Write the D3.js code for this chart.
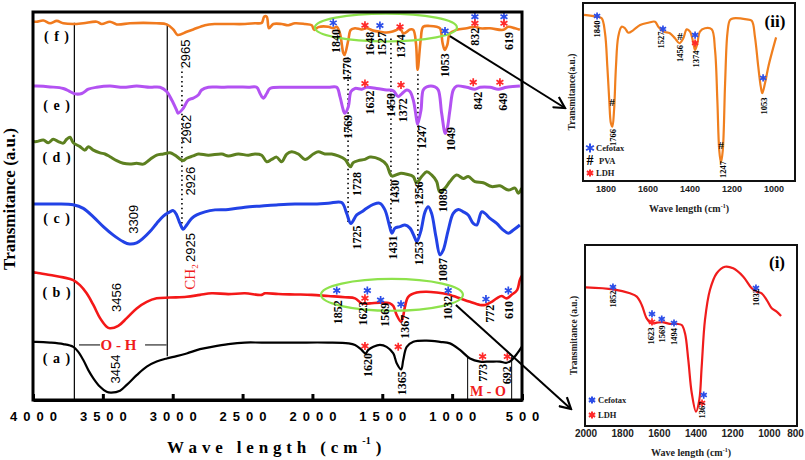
<!DOCTYPE html>
<html><head><meta charset="utf-8">
<script src="https://cdn.jsdelivr.net/npm/d3@7"></script>
<style>body{margin:0;background:#fff}svg{display:block}</style>
</head><body><svg id="c" width="805" height="460"></svg>
<script>
// ---------- DATA (wavenumber cm-1, transmittance a.u.) ----------
const xTicks = [4000,3500,3000,2500,2000,1500,1000,500];
const spectrumF = [[3995,97.5],[3974,97.5],[3926,97.8],[3878,97.1],[3830,97.7],[3783,97.1],[3712,96.9],[3640,97.1],[3544,97.5],[3508,96.9],[3449,97.5],[3401,96.8],[3306,97.1],[3211,97.2],[3115,97.1],[3043,96.8],[2996,95.5],[2965,94.1],[2900,94.9],[2853,95.5],[2769,96.6],[2697,96.9],[2602,96.9],[2483,96.9],[2411,97.1],[2363,97.2],[2345,98.8],[2327,98.8],[2311,95.8],[2280,96.9],[2220,96.9],[2173,96.6],[2125,97.1],[2053,96.9],[2005,96.6],[1987,95.4],[1958,96.1],[1887,96.2],[1851,95.8],[1826,96.2],[1803,94.5],[1779,89.4],[1770,88.9],[1743,92.8],[1726,95.4],[1695,95.8],[1647,95.5],[1612,95.8],[1564,95.2],[1517,94.9],[1469,94.7],[1433,94.9],[1397,95.4],[1373,95.8],[1350,94.5],[1325,94.9],[1302,95.5],[1278,95.4],[1259,91.9],[1247,85.1],[1225,92.8],[1207,96.2],[1159,96.4],[1111,96.2],[1087,95.8],[1068,91.9],[1053,90.2],[1035,91.5],[1016,94.5],[968,95.4],[896,95.8],[837,96.2],[801,95.8],[729,95.8],[634,95.4],[598,96.2],[550,95.8],[515,95.4]];
const spectrumE = [[3995,80.9],[3974,80.9],[3878,80.7],[3783,80.3],[3735,79.5],[3699,78.9],[3651,79.0],[3604,80.1],[3544,80.6],[3449,80.9],[3354,80.6],[3258,80.9],[3163,80.6],[3091,80.6],[3043,79.5],[3007,77.3],[2972,74.7],[2962,73.9],[2924,75.2],[2889,77.3],[2853,77.8],[2817,78.6],[2793,79.9],[2745,80.6],[2649,80.6],[2554,80.7],[2459,80.6],[2399,80.6],[2375,79.0],[2352,77.8],[2327,79.0],[2304,80.3],[2173,80.6],[2030,80.6],[1887,80.6],[1826,80.6],[1803,78.2],[1779,74.7],[1769,73.9],[1743,75.6],[1724,79.5],[1695,80.3],[1647,80.1],[1612,80.6],[1540,80.3],[1469,79.9],[1421,79.7],[1386,78.2],[1361,78.9],[1325,79.9],[1302,79.5],[1278,77.3],[1254,72.2],[1247,71.1],[1223,74.7],[1207,79.9],[1182,80.7],[1123,80.7],[1099,79.9],[1075,73.9],[1049,68.7],[1035,70.0],[1016,74.7],[992,79.9],[968,80.9],[896,80.6],[837,80.1],[801,80.6],[729,80.6],[670,80.1],[610,80.6],[515,80.9]];
const spectrumD = [[3995,66.6],[3974,66.6],[3926,67.0],[3890,66.3],[3855,67.2],[3819,66.6],[3783,66.2],[3759,67.2],[3735,67.7],[3712,66.3],[3664,65.3],[3628,64.4],[3604,65.3],[3568,64.4],[3520,63.7],[3485,63.4],[3449,62.7],[3401,61.7],[3354,61.0],[3306,60.8],[3258,61.0],[3211,60.8],[3163,62.0],[3115,63.1],[3067,63.4],[3020,63.7],[2984,63.1],[2926,61.7],[2900,62.3],[2853,62.9],[2817,63.4],[2745,63.1],[2649,63.4],[2602,62.9],[2531,63.4],[2459,63.1],[2411,63.4],[2363,63.1],[2327,61.4],[2292,62.0],[2256,62.6],[2220,61.4],[2184,63.4],[2148,64.0],[2101,63.4],[2053,62.0],[1994,63.4],[1958,64.0],[1910,63.4],[1862,63.4],[1815,62.9],[1767,62.0],[1728,60.1],[1708,61.2],[1672,61.7],[1624,62.0],[1588,62.6],[1517,62.0],[1469,60.6],[1445,58.4],[1430,57.7],[1373,58.4],[1325,58.2],[1278,57.6],[1256,56.0],[1218,57.6],[1182,58.8],[1147,58.0],[1111,56.3],[1089,53.7],[1051,54.6],[1016,56.3],[968,58.0],[920,57.1],[885,57.6],[837,56.3],[777,56.0],[717,55.0],[658,55.2],[598,54.1],[550,54.6],[526,53.3],[502,54.6]];
const spectrumC = [[3995,50.5],[3974,50.5],[3830,50.5],[3712,50.3],[3640,49.4],[3568,47.2],[3497,44.7],[3425,42.5],[3354,40.8],[3309,40.2],[3258,40.5],[3211,41.7],[3163,43.4],[3115,45.5],[3067,47.4],[3020,48.5],[2996,48.8],[2972,47.7],[2948,45.5],[2925,44.0],[2900,45.1],[2864,46.8],[2828,47.7],[2769,48.5],[2697,49.0],[2602,49.1],[2483,49.7],[2363,50.0],[2244,50.3],[2125,50.5],[2005,50.5],[1887,50.7],[1791,50.9],[1755,48.1],[1725,45.5],[1683,47.7],[1647,48.5],[1612,49.4],[1564,50.4],[1517,50.7],[1481,49.0],[1450,45.1],[1431,43.0],[1409,44.3],[1373,44.7],[1338,45.1],[1302,44.3],[1266,41.7],[1253,40.8],[1225,43.4],[1194,48.5],[1171,49.8],[1147,48.1],[1116,42.1],[1087,37.4],[1063,38.7],[1028,43.8],[992,48.1],[956,49.1],[920,48.5],[885,47.7],[849,45.5],[824,45.1],[789,48.5],[765,48.1],[729,46.8],[681,45.5],[634,43.8],[598,43.0],[562,43.8],[515,45.1]];
const spectrumB = [[3995,32.9],[3974,32.8],[3878,32.2],[3783,31.6],[3712,30.9],[3664,29.6],[3616,27.5],[3568,24.5],[3520,21.1],[3473,18.9],[3450,18.5],[3390,19.1],[3329,21.1],[3258,23.6],[3186,25.3],[3115,26.2],[3020,26.4],[2900,26.6],[2805,27.1],[2721,27.5],[2602,27.3],[2483,27.5],[2363,27.1],[2340,27.5],[2244,27.3],[2125,27.2],[2005,27.1],[1887,26.8],[1767,26.5],[1695,26.2],[1647,24.9],[1588,24.9],[1517,25.1],[1445,24.9],[1421,24.2],[1397,21.9],[1367,20.2],[1354,21.1],[1338,24.0],[1314,26.6],[1254,27.7],[1182,27.9],[1111,27.7],[1039,27.3],[992,26.8],[944,26.2],[872,25.3],[801,24.5],[765,24.5],[717,25.3],[681,26.2],[646,26.8],[610,26.2],[574,27.1],[534,28.4],[516,30.9],[502,32.0]];
const spectrumA = [[3995,15.0],[3974,15.0],[3878,14.8],[3783,14.4],[3712,13.7],[3676,12.4],[3640,10.3],[3604,7.7],[3568,5.6],[3520,3.4],[3473,2.1],[3440,1.9],[3377,2.4],[3329,3.9],[3258,6.4],[3186,8.6],[3115,9.9],[3043,10.7],[2972,11.3],[2900,12.0],[2805,13.1],[2721,13.7],[2602,14.4],[2483,14.8],[2363,14.8],[2125,14.8],[1887,14.8],[1743,14.6],[1695,14.2],[1650,13.0],[1620,12.0],[1600,12.9],[1564,13.7],[1517,14.2],[1469,13.7],[1421,12.0],[1397,9.5],[1365,7.9],[1350,10.3],[1325,13.7],[1278,15.0],[1182,15.3],[1087,15.0],[1016,14.6],[944,12.9],[872,10.7],[801,9.9],[729,9.9],[658,9.9],[610,9.6],[574,10.3],[534,12.0],[502,13.7]];
const curveNames = [["( f )",3828,93.8],["( e )",3828,76.0],["( d )",3828,62.4],["( c )",3828,46.9],["( b )",3828,27.6],["( a )",3828,10.8]];
const peakLabels = [["2965",2912,89.2],["1840",1831,92.5],["1770",1753,85.3],["1648",1588,91.8],["1527",1502,91.8],["1374",1363,91.2],["1053",1051,86.3],["832",837,93.6],["619",590,92.5],
 ["2962",2900,69.8],["1769",1746,70.4],["1632",1585,76.7],["1450",1438,76.0],["1372",1352,74.7],["1247",1216,67.8],["1049",1008,67.3],["842",815,77.1],["649",636,76.9],
 ["2926",2876,56.4],["1728",1681,55.7],["1430",1409,53.7],["1256",1234,53.2],["1089",1066,51.5],
 ["3309",3284,46.6],["2925",2876,39.3],["1725",1681,41.9],["1431",1423,39.3],["1253",1237,37.8],["1087",1069,33.5],
 ["3456",3402,26.4],["1852",1817,22.6],["1623",1635,22.3],["1569",1481,22.0],["1367",1338,18.9],["1032",1030,23.8],["772",729,22.2],["610",590,23.2],
 ["3454",3413,8.0],["1620",1602,9.0],["1365",1359,4.3],["773",779,7.0],["692",608,6.4]];
const peakStars = [[1851,97.2,"cef"],[1624,96.6,"ldh"],[1517,96.5,"cef"],[1373,96.2,"ldh"],[1051,95.1,"cef"],[837,98.8,"cef"],[837,97.1,"ldh"],[629,98.8,"cef"],[629,97.1,"ldh"],
 [1624,81.6,"ldh"],[1366,81.2,"ldh"],[849,81.9,"ldh"],[658,81.9,"ldh"],
 [1826,28.2,"cef"],[1624,26.2,"ldh"],[1607,28.2,"cef"],[1512,25.8,"cef"],[1366,24.7,"cef"],[1028,28.2,"cef"],[758,26.0,"cef"],[598,28.2,"cef"],
 [1624,13.9,"ldh"],[1386,13.7,"ldh"],[782,11.2,"ldh"],[605,11.2,"ldh"]];
const solidGuides = [[3704,0,97.2],[3039,11.3,96.9]];
const dottedGuides = [[2934,44.3,85.6],[1745,45.9,88.4],[1438,44.3,93.3],[1245,41.2,84.5]];
const ohSegments = [[3671,3520],[3198,3043]];
const ohLevel = 14.2;
const moBounds = [889,574];
const zoomEllipses = [[1474,96.0,3.6],[1431,27.1,4.1]]; // centre w, centre v, half height (a.u.)

const insetIITicks = [1800,1600,1400,1200,1000];
const insetIIData = [[1905,93.3],[1845,92.3],[1821,91.4],[1805,83],[1794,64.2],[1785,45.5],[1777,32.4],[1770,30.5],[1762,39.9],[1753,64.2],[1742,81.1],[1726,86.7],[1710,85.8],[1694,83.3],[1670,84.8],[1638,87.6],[1599,88.9],[1567,89.5],[1551,86.7],[1527,83.9],[1496,83.0],[1472,80.2],[1451,77.4],[1432,80.2],[1416,85.2],[1400,83.9],[1384,77.4],[1376,73.6],[1365,77.4],[1353,83.9],[1329,85.8],[1297,85.2],[1281,73.6],[1270,45.5],[1261,17.4],[1253,10.3],[1244,17.4],[1233,54.9],[1222,83.0],[1210,90.4],[1194,91.4],[1130,90.8],[1106,90.0],[1091,81.1],[1075,64.2],[1063,53.0],[1056,49.3],[1043,54.9],[1027,64.2],[1011,71.7],[990,80.7]];
const insetIILabels = [["1840",1843,85.4],["1766",1769,24.4],["1527",1538,79.2],["1456",1450,71.6],["1374",1374,68.5],["1247",1245,6.5],["1053",1050,42.1]];
const insetIIMarks = [[1843,92.7,"cef"],[1529,85.4,"cef"],[1448,81.5,"pva"],[1376,82.0,"cef"],[1376,77.5,"ldh"],[1772,44.4,"pva"],[1253,20.2,"pva"],[1052,57.9,"cef"]];

const insetITicks = [2000,1800,1600,1400,1200,1000,800];
const insetIData = [[2000,76.6],[1851,75.5],[1760,73.3],[1723,71.5],[1696,66.9],[1669,59.5],[1642,56.7],[1614,57.1],[1578,57.3],[1542,56.4],[1505,56.4],[1478,55.8],[1460,51.2],[1442,36.5],[1423,18.1],[1400,7.9],[1382,14.4],[1369,32.8],[1351,58.6],[1324,75.1],[1287,84.4],[1242,88.0],[1197,87.1],[1142,82.5],[1096,76.1],[1069,74.2],[1042,73.3],[1014,69.6],[987,65.0],[960,63.2],[936,60.8]];
const insetILabels = [["1852",1855,70.2],["1623",1643,49.7],["1569",1588,50.8],["1494",1520,49.4],["1367",1365,8.8],["1032",1075,71.0]];
const insetIMarks = [[1853,76.8,"cef"],[1640,61.9,"cef"],[1640,57.5,"ldh"],[1587,59.1,"cef"],[1520,56.9,"cef"],[1358,17.1,"cef"],[1367,12.7,"ldh"],[1073,76.2,"cef"]];

// ---------- STYLE ----------
const markColor = {cef:"#2b4de8", ldh:"#ff2a2a", pva:"#111"};
const SERIF = "'Liberation Serif','Times New Roman',serif";
const SANS = "'Liberation Sans',Arial,sans-serif";
const W = 805;

const svg = d3.select("#c");
svg.append("defs").append("marker").attr("id","arr").attr("viewBox","0 0 14 14")
  .attr("refX",12).attr("refY",7).attr("markerWidth",14).attr("markerHeight",14)
  .attr("markerUnits","userSpaceOnUse").attr("orient","auto")
  .append("path").attr("d","M1,1 L12,7 L1,13").attr("fill","none").attr("stroke","#000").attr("stroke-width",2.2);

function star(g, cx, cy, r, color, sw){
  const p = d3.path();
  for (let k=0;k<3;k++){ const a=Math.PI/2+k*Math.PI/3;
    p.moveTo(cx+r*Math.cos(a), cy+r*Math.sin(a)); p.lineTo(cx-r*Math.cos(a), cy-r*Math.sin(a)); }
  g.append("path").attr("d",p.toString()).attr("stroke",color).attr("stroke-width",sw||1.7).attr("fill","none");
}
function mark(g, cx, cy, kind, r, fs){
  if (kind==="pva") g.append("text").attr("x",cx).attr("y",cy).attr("text-anchor","middle").attr("dominant-baseline","central")
     .attr("font-family",SERIF).attr("font-weight","bold").attr("font-size",fs).attr("fill","#111").text("#");
  else star(g,cx,cy,r,markColor[kind]);
}
function vlabel(g, x, y, txt, fs, fam, weight, color){
  return g.append("text").attr("transform",`translate(${x},${y}) rotate(-90)`).attr("text-anchor","middle")
   .attr("dominant-baseline","central").attr("font-family",fam).attr("font-weight",weight).attr("font-size",fs)
   .attr("fill",color||"#000").text(txt);
}

// ---------- MAIN CHART ----------
const x = d3.scaleLinear().domain([4000,500]).range([33,522]);
const y = d3.scaleLinear().domain([0,100]).range([400,12]);
const main = svg.append("g");
const line = d3.line().x(d=>x(d[0])).y(d=>y(d[1])).curve(d3.curveCatmullRom.alpha(0.5));

solidGuides.forEach(([w,v0,v1])=> main.append("line").attr("x1",x(w)).attr("x2",x(w)).attr("y1",y(v0)).attr("y2",y(v1)).attr("stroke","#000").attr("stroke-width",1.2));
dottedGuides.forEach(([w,v0,v1])=> main.append("line").attr("x1",x(w)).attr("x2",x(w)).attr("y1",y(v0)).attr("y2",y(v1)).attr("stroke","#000").attr("stroke-width",1.6).attr("stroke-dasharray","1.5,3.2"));
ohSegments.forEach(([a,b])=> main.append("line").attr("x1",x(a)).attr("x2",x(b)).attr("y1",y(ohLevel)).attr("y2",y(ohLevel)).attr("stroke","#555").attr("stroke-width",1.5));
moBounds.forEach(w=> main.append("line").attr("x1",x(w)).attr("x2",x(w)).attr("y1",y(0)).attr("y2",y(11.2)).attr("stroke","#000").attr("stroke-width",1));

const series = [
  {d:spectrumA, c:"#000000", w:2.2},
  {d:spectrumB, c:"#f41818", w:2.6},
  {d:spectrumC, c:"#2242e6", w:3},
  {d:spectrumD, c:"#5d8020", w:3},
  {d:spectrumE, c:"#b352f2", w:3},
  {d:spectrumF, c:"#f07a1e", w:2.6}
];
series.forEach(s=> main.append("path").datum(s.d).attr("d",line).attr("fill","none").attr("stroke",s.c).attr("stroke-width",s.w).attr("stroke-linejoin","round"));

zoomEllipses.forEach(([w,v,h])=> main.append("ellipse").attr("cx",x(w)).attr("cy",y(v)).attr("rx",71).attr("ry",y(0)-y(h))
  .attr("fill","none").attr("stroke","#8ee24c").attr("stroke-width",2.2));

peakStars.forEach(([w,v,k])=> mark(main, x(w), y(v), k, 4));
peakLabels.forEach(([t,w,v])=>{
  if (w>2800) vlabel(main, x(w), y(v), t, 13, SANS, "normal");
  else vlabel(main, x(w), y(v), t, 12, SERIF, "bold");
});
curveNames.forEach(([t,w,v])=> main.append("text").attr("x",x(w)).attr("y",y(v)).attr("text-anchor","middle").attr("dominant-baseline","central")
  .attr("font-family",SERIF).attr("font-weight","bold").attr("font-size",14).attr("letter-spacing","1px").text(t));

main.append("text").attr("x",x(3388)).attr("y",y(ohLevel)).attr("text-anchor","middle").attr("dominant-baseline","central")
  .attr("font-family",SERIF).attr("font-weight","bold").attr("font-size",15).attr("fill","#f01c1c").text("O - H");
main.append("text").attr("x",x(744)).attr("y",y(2.1)).attr("text-anchor","middle").attr("dominant-baseline","central")
  .attr("font-family",SERIF).attr("font-weight","bold").attr("font-size",14).attr("fill","#f01c1c").text("M - O");
const ch = main.append("text").attr("transform",`translate(${x(2876)},${y(31.7)}) rotate(-90)`).attr("text-anchor","middle")
  .attr("dominant-baseline","central").attr("font-family",SERIF).attr("font-size",15).attr("fill","#f01c1c");
ch.append("tspan").text("CH");
ch.append("tspan").attr("font-size",9).attr("dy",5).text("2");

// frame + axis
main.append("rect").attr("x",33).attr("y",12).attr("width",489).attr("height",388).attr("fill","none").attr("stroke","#000").attr("stroke-width",3);
const ax = main.append("g").attr("transform","translate(0,400)")
  .call(d3.axisBottom(x).tickValues(xTicks).tickSizeInner(-6).tickSizeOuter(0).tickPadding(12).tickFormat(d3.format("d")));
ax.select(".domain").attr("stroke-width",3);
ax.selectAll(".tick line").attr("stroke-width",3);
ax.selectAll(".tick text").attr("font-family",SANS).attr("font-weight","bold").attr("font-size",13)
  .attr("letter-spacing","6px").attr("dx","3px").attr("fill","#000");

svg.append("text").attr("transform","translate(15,199) rotate(-90)").attr("text-anchor","middle")
  .attr("font-family",SERIF).attr("font-weight","bold").attr("font-size",17).text("Transmitance (a.u.)");
const xt = svg.append("text").attr("x",167).attr("y",453).attr("font-family",SERIF).attr("font-weight","bold")
  .attr("font-size",17).attr("letter-spacing","0.3px").attr("xml:space","preserve");
xt.append("tspan").text("W a v e   l e n g t h   ( c m ");
xt.append("tspan").attr("font-size",10).attr("dy",-9).text("-1");
xt.append("tspan").attr("dy",9).text(" )");

// ---------- INSETS ----------
function drawInset(cfg){
  const g = svg.append("g");
  const ix = d3.scaleLinear().domain(cfg.xd).range(cfg.xr);
  const iy = d3.scaleLinear().domain([0,100]).range([cfg.y1,cfg.y0]);
  const il = d3.line().x(d=>ix(d[0])).y(d=>iy(d[1])).curve(d3.curveCatmullRom.alpha(0.5));
  g.append("path").datum(cfg.data).attr("d",il).attr("fill","none").attr("stroke",cfg.color).attr("stroke-width",2.2);
  cfg.marks.forEach(([w,v,k])=> mark(g, ix(w), iy(v), k, 3.6, 11));
  cfg.labels.forEach(([t,w,v])=> vlabel(g, ix(w), iy(v), t, 8.5, SERIF, "bold"));
  g.append("rect").attr("x",cfg.x0).attr("y",cfg.y0).attr("width",cfg.x1-cfg.x0).attr("height",cfg.y1-cfg.y0)
    .attr("fill","none").attr("stroke","#111").attr("stroke-width",2);
  cfg.ticks.forEach(t=>{
    const half = String(t).length*cfg.tickFs*0.28;
    g.append("text").attr("x",Math.min(ix(t), W-1-half)).attr("y",cfg.y1+cfg.tickDy).attr("text-anchor","middle")
      .attr("font-family",SANS).attr("font-weight","bold").attr("font-size",cfg.tickFs).attr("fill","#222").text(t);
  });
  const tt = g.append("text").attr("x",(cfg.x0+cfg.x1)/2).attr("y",cfg.y1+cfg.titleDy).attr("text-anchor","middle")
    .attr("font-family",SERIF).attr("font-weight","bold").attr("font-size",10).attr("fill","#222");
  tt.append("tspan").text("Wave length (cm");
  tt.append("tspan").attr("font-size",6).attr("dy",-4).text("-1");
  tt.append("tspan").attr("dy",4).text(")");
  g.append("text").attr("transform",`translate(${cfg.x0-8},${(cfg.y0+cfg.y1)/2}) rotate(-90)`).attr("text-anchor","middle")
    .attr("font-family",SERIF).attr("font-weight","bold").attr("font-size",9.5).attr("fill","#222").text(cfg.ytitle);
  g.append("text").attr("x",cfg.x1-20).attr("y",cfg.y0+cfg.tagDy).attr("text-anchor","middle")
    .attr("font-family",SERIF).attr("font-weight","bold").attr("font-size",17).text(cfg.tag);
  cfg.legend.forEach(([k,txt],i)=>{
    const ly = cfg.legY + i*cfg.legStep;
    if (k==="pva") g.append("text").attr("x",cfg.x0+7).attr("y",ly).attr("text-anchor","middle").attr("dominant-baseline","central")
      .attr("font-family",SERIF).attr("font-weight","bold").attr("font-size",14).text("#");
    else star(g, cfg.x0+7, ly, k==="cef"&&cfg.bigStar?4.5:3.6, markColor[k], 2);
    g.append("text").attr("x",cfg.x0+13+(k==="pva"?3:0)).attr("y",ly).attr("dominant-baseline","central")
      .attr("font-family",SERIF).attr("font-weight","bold").attr("font-size",8.5).attr("fill","#222").text(txt);
  });
}
drawInset({xd:[1910,900], xr:[583,795], x0:583, x1:795, y0:3, y1:181, data:insetIIData, color:"#f07f1e",
  marks:insetIIMarks, labels:insetIILabels, ticks:insetIITicks, tickDy:11, tickFs:9, titleDy:31, ytitle:"Transmitance(a.u.)",
  tag:"(ii)", tagDy:24, legend:[["cef","Cefotax"],["pva","PVA"],["ldh","LDH"]], legY:148, legStep:12.5, bigStar:true});
drawInset({xd:[2000,800], xr:[586,806], x0:585, x1:797, y0:245, y1:426, data:insetIData, color:"#f01c1c",
  marks:insetIMarks, labels:insetILabels, ticks:insetITicks, tickDy:11, tickFs:10, titleDy:30, ytitle:"Transmitance (a.u.)",
  tag:"(i)", tagDy:23, legend:[["cef","Cefotax"],["ldh","LDH"]], legY:400, legStep:15, bigStar:false});

// ---------- ARROWS (zoom ellipse -> inset) ----------
svg.append("line").attr("x1",x(1016)).attr("y1",y(93.8)).attr("x2",565).attr("y2",108).attr("stroke","#000").attr("stroke-width",2).attr("marker-end","url(#arr)");
svg.append("line").attr("x1",x(973)).attr("y1",y(24.5)).attr("x2",571).attr("y2",409).attr("stroke","#000").attr("stroke-width",2).attr("marker-end","url(#arr)");
</script></body></html>
